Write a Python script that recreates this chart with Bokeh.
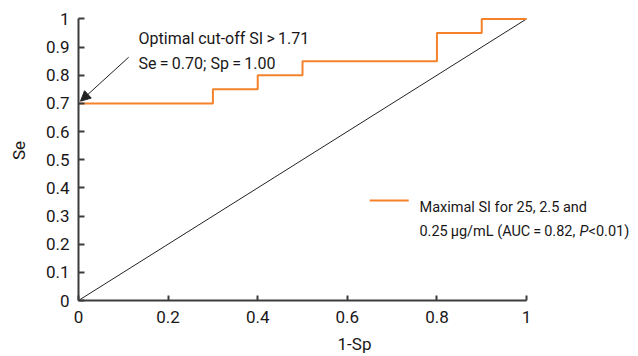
from bokeh.plotting import figure
from bokeh.models import Range1d, FixedTicker, Label, Arrow, NormalHead
from bokeh.embed import file_html
from bokeh.resources import INLINE

# ROC step curve (1-Sp, Se)
roc_x = [0.0, 0.3, 0.3, 0.4, 0.4, 0.5, 0.5, 0.8, 0.8, 0.9, 0.9, 1.0]
roc_y = [0.7, 0.7, 0.75, 0.75, 0.8, 0.8, 0.85, 0.85, 0.95, 0.95, 1.0, 1.0]
ref_x = [0.0, 1.0]
ref_y = [0.0, 1.0]
x_ticks = [0, 0.2, 0.4, 0.6, 0.8, 1.0]
y_ticks = [0, 0.1, 0.2, 0.3, 0.4, 0.5, 0.6, 0.7, 0.8, 0.9, 1.0]

FONT = "Roboto"
TXT = "#1a1718"
ORANGE = "#F5822A"
AX = "#3c3c3c"

p = figure(width=630, height=356, output_backend="svg", toolbar_location=None,
           x_range=Range1d(0, 1.232), y_range=Range1d(0, 1.0655),
           min_border_left=78, min_border_right=0, min_border_top=0, min_border_bottom=55)
p.outline_line_color = None
p.grid.visible = False
p.background_fill_color = "white"

p.line(ref_x, ref_y, line_color="#222222", line_width=1)
p.line(roc_x, roc_y, line_color=ORANGE, line_width=2)

for ax in (p.xaxis[0], p.yaxis[0]):
    ax.bounds = (0, 1)
    ax.axis_line_color = AX
    ax.axis_line_width = 2
    ax.major_tick_line_color = AX
    ax.major_tick_line_width = 2
    ax.minor_tick_line_color = None
    ax.major_label_text_font = FONT
    ax.major_label_text_font_size = "17px"
    ax.major_label_text_color = TXT
    ax.axis_label_text_font = FONT
    ax.axis_label_text_font_size = "17px"
    ax.axis_label_text_font_style = "normal"
    ax.axis_label_text_color = TXT

p.xaxis.ticker = FixedTicker(ticks=x_ticks)
p.xaxis.major_label_overrides = {0: "0", 1: "1"}
p.xaxis.major_tick_in = 5
p.xaxis.major_tick_out = 0
p.xaxis.major_label_standoff = 10
p.xaxis.axis_label = "1-Sp"
p.xaxis.axis_label_standoff = 8

p.yaxis.ticker = FixedTicker(ticks=y_ticks)
p.yaxis.major_label_overrides = {0: "0", 1: "1"}
p.yaxis.major_tick_in = 6
p.yaxis.major_tick_out = 0
p.yaxis.major_label_standoff = 9
p.yaxis.axis_label = "Se"
p.yaxis.axis_label_standoff = 14

def lab(x, y, t, size, style="normal"):
    p.add_layout(Label(x=x, y=y, text=t, text_font=FONT, text_font_size=size,
                       text_color=TXT, text_baseline="alphabetic", text_align="left",
                       text_font_style=style))

lab(0.134, 0.932, "Optimal cut-off SI\u2009>\u20091.71", "16px")
lab(0.134, 0.8425, "Se\u2009=\u20090.70; Sp\u2009=\u20091.00", "16px")

p.add_layout(Arrow(end=NormalHead(size=10, fill_color="#222222", line_color="#222222"),
                   x_start=0.112, y_start=0.864, x_end=0.0045, y_end=0.708,
                   line_color="#222222", line_width=1))

# legend
p.line([0.65, 0.737], [0.355, 0.355], line_color=ORANGE, line_width=2)
lab(0.761, 0.330, "Maximal SI for 25, 2.5 and", "14.5px")
lab(0.761, 0.244, "0.25\u2009\u03bcg/mL (AUC\u2009=\u20090.82,", "14.5px")
lab(1.118, 0.244, "P", "14.5px", "italic")
lab(1.1384, 0.244, "<0.01)", "14.5px")

open("out.html", "w").write(file_html(p, INLINE))
